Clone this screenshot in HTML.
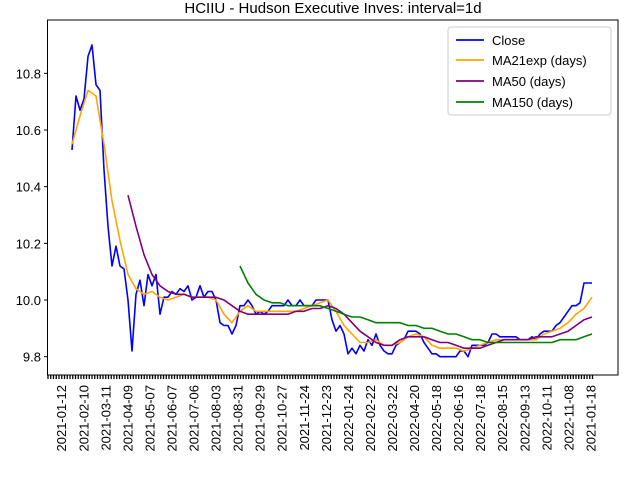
<!DOCTYPE html>
<html><head><meta charset="utf-8"><style>
body{margin:0;background:#fff}
svg{display:block;font-family:"Liberation Sans","DejaVu Sans",sans-serif}
</style></head><body>
<svg id="chart" width="640" height="480" viewBox="0 0 640 480">
<rect width="640" height="480" fill="#fff"/>
<text x="333" y="13" font-size="15" text-anchor="middle">HCIIU - Hudson Executive Inves: interval=1d</text>
<g id="plot"></g>
<rect x="47.5" y="20" width="570.5" height="355" fill="none" stroke="#000" stroke-width="1"/>
<g>
<rect x="448" y="27" width="163" height="88" rx="3" fill="#fff" fill-opacity="0.85" stroke="#ccc"/>
<line x1="456" y1="40" x2="484" y2="40" stroke="blue" stroke-width="1.8"/><text x="492" y="45" font-size="13">Close</text>
<line x1="456" y1="60" x2="484" y2="60" stroke="orange" stroke-width="1.8"/><text x="492" y="65" font-size="13">MA21exp (days)</text>
<line x1="456" y1="81" x2="484" y2="81" stroke="purple" stroke-width="1.8"/><text x="492" y="86" font-size="13">MA50 (days)</text>
<line x1="456" y1="102" x2="484" y2="102" stroke="green" stroke-width="1.8"/><text x="492" y="107" font-size="13">MA150 (days)</text>
</g>
</svg>
<script>
const closeVals=[10.53,10.72,10.67,10.71,10.86,10.90,10.76,10.74,10.46,10.26,10.12,10.19,10.12,10.11,10.00,9.82,10.02,10.07,9.98,10.09,10.05,10.09,9.95,10.01,10.01,10.03,10.02,10.04,10.03,10.05,10.00,10.01,10.05,10.01,10.03,10.03,10.00,9.92,9.91,9.91,9.88,9.91,9.98,9.98,10.00,9.98,9.95,9.96,9.95,9.96,9.98,9.98,9.98,9.98,10.00,9.98,9.98,10.00,9.98,9.98,9.98,10.00,10.00,10.00,10.00,9.93,9.89,9.91,9.88,9.81,9.83,9.81,9.84,9.82,9.86,9.84,9.88,9.84,9.82,9.81,9.81,9.84,9.85,9.86,9.89,9.89,9.89,9.88,9.85,9.83,9.81,9.81,9.80,9.80,9.80,9.80,9.80,9.82,9.82,9.80,9.84,9.84,9.84,9.84,9.85,9.88,9.88,9.87,9.87,9.87,9.87,9.87,9.86,9.86,9.86,9.87,9.86,9.88,9.89,9.89,9.89,9.91,9.92,9.94,9.96,9.98,9.98,9.99,10.06,10.06,10.06];
const ma21Vals=[10.55,10.65,10.74,10.72,10.55,10.35,10.21,10.09,10.04,10.02,10.03,10.01,10.00,10.01,10.02,10.01,10.01,10.01,10.00,9.95,9.92,9.96,9.98,9.96,9.96,9.96,9.96,9.96,9.96,9.97,9.98,9.99,10.00,9.96,9.91,9.88,9.85,9.85,9.86,9.84,9.84,9.85,9.87,9.88,9.87,9.84,9.83,9.83,9.83,9.82,9.83,9.84,9.85,9.86,9.86,9.86,9.86,9.86,9.86,9.88,9.89,9.90,9.92,9.95,9.97,10.01];
const ma50Start=14;
const ma50Vals=[10.37,10.26,10.16,10.09,10.05,10.03,10.02,10.02,10.01,10.01,10.01,10.01,10.00,9.98,9.96,9.95,9.95,9.95,9.95,9.95,9.95,9.96,9.96,9.97,9.97,9.98,9.97,9.95,9.92,9.89,9.87,9.85,9.84,9.84,9.86,9.87,9.87,9.87,9.86,9.85,9.85,9.84,9.83,9.83,9.83,9.84,9.85,9.86,9.86,9.86,9.86,9.87,9.87,9.87,9.88,9.89,9.91,9.93,9.94];
const ma150Start=42;
const ma150Vals=[10.12,10.06,10.02,10.00,9.99,9.99,9.98,9.98,9.98,9.98,9.98,9.97,9.96,9.95,9.94,9.94,9.93,9.92,9.92,9.92,9.92,9.91,9.91,9.90,9.90,9.89,9.88,9.88,9.87,9.86,9.86,9.85,9.85,9.85,9.85,9.85,9.85,9.85,9.85,9.85,9.86,9.86,9.86,9.87,9.88];
const yTicks=[9.8,10.0,10.2,10.4,10.6,10.8];
const xLabels=["2021-01-12","2021-02-10","2021-03-11","2021-04-09","2021-05-07","2021-06-07","2021-07-06","2021-08-03","2021-08-31","2021-09-29","2021-10-27","2021-11-24","2021-12-23","2022-01-24","2022-02-22","2022-03-22","2022-04-20","2022-05-18","2022-06-16","2022-07-18","2022-08-15","2022-09-13","2022-10-11","2022-11-08","2021-01-18"];

const NS="http://www.w3.org/2000/svg";
const svg=document.getElementById('chart');
const plot=document.getElementById('plot');
const N=closeVals.length;
function xScale(i){return 72+(592-72)*i/(N-1);}
function yScale(v){return 300-(v-10)*283.3;}
function xLab(i){return 61.7+i*22.05;}
function mk(tag,attrs,parent){const e=document.createElementNS(NS,tag);for(const k in attrs)e.setAttribute(k,attrs[k]);(parent||svg).appendChild(e);return e;}

// y ticks
yTicks.forEach(v=>{
  const y=yScale(v);
  const t=mk('line',{x1:44,x2:47.5,y1:y,y2:y,stroke:'#000'});
  
  
  const l=mk('text',{x:41,y:y+5,'font-size':13,'text-anchor':'end'});
  l.textContent=v.toFixed(1);
  
  
});
// x ticks: dense minor
for(let x=48;x<=593;x+=2.75){
  const t=mk('line',{x1:x,x2:x,y1:375,y2:379,stroke:'#000','stroke-width':1.3});
  
  
}
xLabels.forEach((s,i)=>{
  const x=xLab(i);
  const l=mk('text',{x:0,y:0,'font-size':13,'text-anchor':'end',transform:`translate(${x+4.5},385) rotate(-90)`});
  l.textContent=s;
  
  
});
function line(vals,start,step,color,name){
  const pts=vals.map((v,k)=>xScale(start+k*step).toFixed(1)+','+yScale(v).toFixed(1)).join(' ');
  const p=mk('polyline',{points:pts,fill:'none',stroke:color,'stroke-width':1.6,'stroke-linejoin':'round'},plot);
  
  
}
line(closeVals,0,1,'blue','close-line');
line(ma21Vals,0,2,'orange','ma21exp-line');
line(ma50Vals,ma50Start,2,'purple','ma50-line');
line(ma150Vals,ma150Start,2,'green','ma150-line');
</script>
</body></html>
